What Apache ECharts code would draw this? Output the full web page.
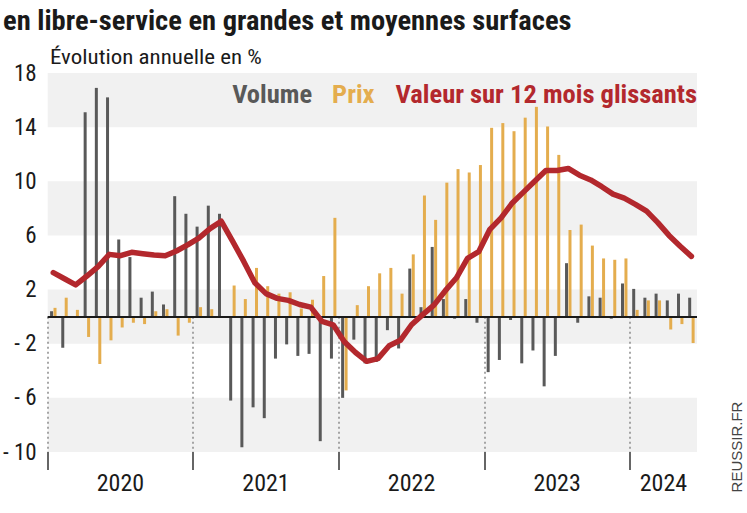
<!DOCTYPE html>
<html><head><meta charset="utf-8">
<script src="https://cdn.jsdelivr.net/npm/echarts@6/dist/echarts.min.js"></script>
<style>html,body{margin:0;padding:0;background:#fff}#c{width:747px;height:513px}</style>
</head><body><div id="c"></div>
<script>
// ---- DATA ----
const months = [
 '2020-01','2020-02','2020-03','2020-04','2020-05','2020-06','2020-07','2020-08','2020-09','2020-10','2020-11','2020-12',
 '2021-01','2021-02','2021-03','2021-04','2021-05','2021-06','2021-07','2021-08','2021-09','2021-10','2021-11','2021-12',
 '2022-01','2022-02','2022-03','2022-04','2022-05','2022-06','2022-07','2022-08','2022-09','2022-10','2022-11','2022-12',
 '2023-01','2023-02','2023-03','2023-04','2023-05','2023-06','2023-07','2023-08','2023-09','2023-10','2023-11','2023-12',
 '2024-01','2024-02','2024-03','2024-04','2024-05','2024-06','2024-07','2024-08','2024-09','2024-10'];
const volume = [0.4,-2.3,-0.1,15.1,16.9,16.2,5.7,4.4,1.4,1.85,0.9,8.9,
 7.6,6.65,8.2,7.6,-6.2,-9.65,-6.7,-7.5,-3.1,-2.05,-2.9,-2.75,
 -9.2,-3.1,-6.0,-1.7,-3.45,-3.35,-1.0,-2.35,3.55,0.7,5.15,1.3,
 -0.15,1.3,-0.45,-4.1,-3.2,-0.25,-3.45,-2.5,-5.15,-2.9,3.95,-0.45,
 1.5,1.4,-0.15,2.45,2.05,1.4,1.7,1.2,1.7,1.4];
const prix = [0.65,1.4,0.5,-1.5,-3.5,-1.75,-0.8,-0.45,-0.55,0.4,0.55,-1.4,
 -0.45,0.7,0.55,0,2.3,1.3,3.6,2.25,1.7,1.8,0.6,1.25,
 3.0,7.3,-5.45,0.85,2.25,3.2,3.6,1.7,4.6,8.95,7.15,9.9,
 10.9,10.65,11.2,13.95,14.3,13.7,14.7,15.5,14.05,11.95,6.4,6.8,
 5.25,4.3,4.2,4.3,0.5,1.2,1.2,-0.95,-0.55,-1.95];
const valeur = [3.25,2.8,2.35,3.0,3.7,4.6,4.5,4.75,4.65,4.55,4.5,4.85,
 5.3,5.8,6.5,7.05,5.6,4.1,2.5,1.7,1.35,1.2,0.9,0.7,
 -0.35,-0.6,-1.85,-2.65,-3.3,-3.1,-2.15,-1.75,-0.6,0.15,0.85,1.9,
 2.85,4.3,4.8,6.45,7.3,8.4,9.2,10.0,10.8,10.8,10.95,10.45,
 10.1,9.6,9.05,8.75,8.3,7.8,6.95,6.0,5.2,4.45];
const yearLabels = ['2020','2021','2022','2023','2024'];
const yearBreaks = [0,13,26,39,52];        // category index where each year block starts (as drawn)
const yTicks = [-10,-6,-2,2,6,10,14,18];
const seriesNames = ['Volume','Prix','Valeur sur 12 mois glissants'];
const titleText = 'en libre-service en grandes et moyennes surfaces';
const subtitleText = 'Évolution annuelle en %';
const sourceText = 'REUSSIR.FR';

// ---- STYLE ----
const FONT = '"Roboto Condensed",Roboto,"Noto Sans",sans-serif';
const C_GRAY = '#595959', C_GOLD = '#e4ad4e', C_RED = '#b3282d', C_BAND = '#f1f1f1';

const mctx = document.createElement('canvas').getContext('2d');
function textW(t, size, weight){ mctx.font = (weight||'normal')+' '+size+'px '+FONT; return mctx.measureText(t).width; }
const titleScale = Math.min(1.15, 569 / textW(titleText, 28, 'bold'));
const subScale = Math.min(1.15, 212 / textW(subtitleText, 20, 'normal'));
const legSum = seriesNames.reduce((s,t)=>s+textW(t,100,'bold'),0);
const legSize = Math.min(28, Math.floor((470 - 2*20 - 5) * 100 / legSum * 10) / 10);

const n = months.length;
const labelPos = yearBreaks.map((b,i)=> (b + (i+1<yearBreaks.length ? yearBreaks[i+1] : n))/2);
const bands = [];
for (let i = 0; i + 1 < yTicks.length; i += 2) bands.push([{yAxis: yTicks[i]}, {yAxis: yTicks[i+1]}]);
const dotted = yearBreaks.map(b => [{coord:[b,0]},{coord:[b,yTicks[0]]}]);

const chart = echarts.init(document.getElementById('c'), null, {renderer:'svg'});
chart.setOption({
  animation:false,
  backgroundColor:'#ffffff',
  legend:{
    right:50, top:Math.round(93 - legSize/2), padding:0, itemWidth:0, itemHeight:0, itemGap:15, selectedMode:false,
    textStyle:{fontFamily:FONT, fontSize:legSize, fontWeight:'bold'},
    data:[
      {name:seriesNames[0], textStyle:{color:C_GRAY}},
      {name:seriesNames[1], textStyle:{color:C_GOLD}},
      {name:seriesNames[2], textStyle:{color:C_RED}}
    ]
  },
  graphic:[
    {type:'text', x:3, y:21, scaleX:titleScale, silent:true,
     style:{text:titleText, fontSize:28, fontWeight:'bold', fill:'#1a1a1a', fontFamily:FONT,
       textAlign:'left', textVerticalAlign:'middle'}},
    {type:'text', x:50, y:57, scaleX:subScale, silent:true,
     style:{text:subtitleText, fontSize:20, fill:'#1a1a1a', fontFamily:FONT,
       textAlign:'left', textVerticalAlign:'middle'}},
    {type:'text', x:736, y:447, rotation:Math.PI/2, silent:true,
     style:{text:sourceText, fontSize:15, fill:'#444', fontFamily:'"Liberation Sans",sans-serif',
       textAlign:'center', textVerticalAlign:'middle'}}
  ],
  grid:{left:46, right:50, top:73, bottom:61},
  xAxis:[
    {type:'category', data:months, boundaryGap:true, axisLine:{show:false}, axisTick:{show:false},
     axisLabel:{show:false}, splitLine:{show:false}},
    {type:'value', min:0, max:n, position:'bottom', axisLine:{show:false, onZero:false},
     axisTick:{show:true, customValues:yearBreaks, length:18, lineStyle:{color:'#333', width:1.5}},
     axisLabel:{customValues:labelPos, margin:19, fontFamily:FONT, fontSize:24, color:'#1a1a1a',
       formatter:(v)=>{const i=labelPos.indexOf(v); return i>=0?yearLabels[i]:'';}},
     splitLine:{show:false}}
  ],
  yAxis:{type:'value', min:yTicks[0], max:yTicks[yTicks.length-1],
    axisLine:{show:false}, axisTick:{show:false}, splitLine:{show:false},
    axisLabel:{customValues:yTicks, margin:11, fontFamily:FONT, fontSize:23, color:'#1a1a1a',
      formatter:(v)=> v<0 ? '- '+Math.abs(v) : String(v)}},
  series:[
    {type:'line', xAxisIndex:1, data:[], z:0, silent:true,
     markArea:{silent:true, itemStyle:{color:C_BAND}, data:bands},
     markLine:{silent:true, symbol:'none', label:{show:false},
       lineStyle:{type:[2,3], color:'#8a8a8a', width:1.5}, data:dotted}},
    {name:seriesNames[0], type:'bar', data:volume, barWidth:3, barGap:'15%', itemStyle:{color:C_GRAY}, z:2},
    {name:seriesNames[1], type:'bar', data:prix, barWidth:3, barGap:'15%', itemStyle:{color:C_GOLD}, z:2},
    {type:'line', xAxisIndex:1, data:[], z:4, silent:true,
     markLine:{silent:true, symbol:'none', label:{show:false},
       lineStyle:{type:'solid', color:'#1a1a1a', width:2}, data:[{yAxis:0}]}},
    {name:seriesNames[2], type:'line', data:valeur, symbol:'none', z:5,
     itemStyle:{color:C_RED},
     lineStyle:{color:C_RED, width:5.5, cap:'round', join:'round'}}
  ]
});
</script></body></html>
